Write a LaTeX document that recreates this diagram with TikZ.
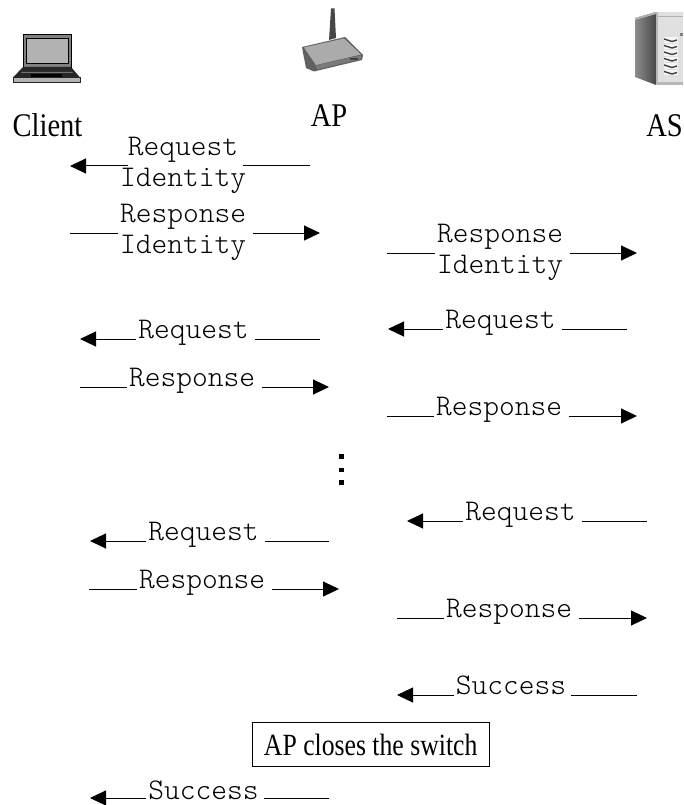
\documentclass[tikz,border=0pt]{standalone}
\usepackage{fontspec}
\usepackage{graphicx}
\setmainfont{Liberation Serif}
\setmonofont{Latin Modern Mono Light}
\usetikzlibrary{arrows.meta}
\definecolor{msgink}{gray}{0.0}
\tikzset{
  msglabel/.style={font=\ttfamily\fontsize{30}{30.4}\selectfont,inner sep=0pt,align=center,text=msgink},
  roletext/.style={font=\fontsize{28.5}{32}\selectfont,inner sep=0pt,anchor=base},
  msgline/.style={line width=1pt,draw=black},
  msgarrow/.style={msgline,-{Triangle[length=16pt,width=15pt]}},
  dotmark/.style={fill=black,draw=none},
}
% name, text, centre x, centre y, line y, left end, right end, left gap, right gap
\newcommand{\msgleft}[9]{%
  \node[msglabel] (#1) at (#3,#4) {#2};
  \coordinate (#1L) at (#6,#5);
  \coordinate (#1R) at (#7,#5);
  \draw[msgarrow] ([xshift=-#8]#1.west |- #1L) -- (#1L);
  \draw[msgline] ([xshift=#9]#1.east |- #1R) -- (#1R);
}
\newcommand{\msgright}[9]{%
  \node[msglabel] (#1) at (#3,#4) {#2};
  \coordinate (#1L) at (#6,#5);
  \coordinate (#1R) at (#7,#5);
  \draw[msgline] (#1L) -- ([xshift=-#8]#1.west |- #1L);
  \draw[msgarrow] ([xshift=#9]#1.east |- #1R) -- (#1R);
}
\begin{document}
\begin{tikzpicture}[x=1pt,y=-1pt]
\useasboundingbox (0,0) rectangle (683,805);
\clip (0,0) rectangle (683,805);
% laptop
\fill[black!50] (23,34) rectangle (71,68);
\draw[black,line width=1pt] (23,68) -- (23,35) -- (71,35) -- (71,68);
\fill[black!30] (26,38.5) rectangle (68,63.5);
\draw[black,line width=1pt] (26,38.5) rectangle (68,63.5);
\fill[black!85] (23,67) -- (71,67) -- (80,77.5) -- (13,77.5) -- cycle;
\fill[black!55] (22,72) -- (72,72) -- (73,73) -- (21,73) -- cycle;
\fill[black!30] (13,77) rectangle (80.5,82);
\draw[black!85,line width=0.8pt] (13,77) rectangle (80.5,82);
\fill[black] (31,74.5) rectangle (62,77.5);
% router
\fill[black!72] (331,8.5) -- (334.5,8.5) -- (336,38) -- (329,40) -- cycle;
\fill[black!62] (302,47) -- (345,37) -- (363,55) -- (362,60) -- (314,71.5) -- (306,68) -- (303,53) -- cycle;
\fill[black!33] (304,47.5) -- (344,38.5) -- (361,54.5) -- (316,65) -- cycle;
\fill[black!52] (316,65.5) -- (361,55.5) -- (361,59) -- (317,69.5) -- cycle;
\fill[black!75] (350,58.5) rectangle (358,60.5);
% server
\shade[left color=black!45,right color=black!72] (635,18) -- (656,12) -- (656,85) -- (635,77) -- cycle;
\fill[black!30] (635,18) -- (656,12) -- (656,14) -- (635,20) -- cycle;
\fill[black!12] (656,12) rectangle (683,85);
\fill[black!28] (656,82) rectangle (683,85);
\fill[black!28] (656,12) rectangle (658,85);
\draw[black!30,line width=0.8pt] (658,16) -- (683,16);
\foreach \yy in {39,45.5,52,58.5,65,71.5}{
  \fill[black!4] (664,\yy-1.5) rectangle (678,\yy+4);
  \draw[black!75,line width=1.4pt] (664,\yy) -- (672,\yy+2.5) -- (677,\yy+1);
}
\fill[black!50] (680,33) rectangle (683,36);
% role labels
\node[roletext] (client) at (47.5,137) {\scalebox{1}[1.16]{Client}};
\node[roletext] (ap) at (329,127) {\scalebox{1}[1.16]{AP}};
\node[roletext] (as) at (664.5,137) {\scalebox{1}[1.16]{AS}};
% messages
\msgleft{m1}{\strut Request\\\strut Identity}{183}{165}{166}{70}{310}{-8pt}{-3pt}
\msgright{m2}{\strut Response\\\strut Identity}{183}{232}{233}{70}{320}{2pt}{7pt}
\msgright{m3}{\strut Response\\\strut Identity}{500}{252}{253}{387}{637}{2pt}{7pt}
\msgleft{m4}{\strut Request}{193.5}{332.5}{339}{80}{320}{2pt}{6pt}
\msgleft{m5}{\strut Request}{500.5}{322.5}{329}{388}{627}{2pt}{6pt}
\msgright{m6}{\strut Response}{192}{380.5}{387}{80}{329}{2pt}{7pt}
\msgright{m7}{\strut Response}{499}{409.5}{416}{387}{637}{2pt}{7pt}
\msgleft{m9}{\strut Request}{520.5}{514.5}{521}{407}{647}{2pt}{6pt}
\msgleft{m10}{\strut Request}{203.5}{534.5}{541}{90}{329}{2pt}{6pt}
\msgright{m11}{\strut Response}{202}{582.5}{589}{89}{339}{2pt}{7pt}
\msgright{m12}{\strut Response}{509}{611.5}{618}{397}{647}{2pt}{7pt}
\msgleft{m13}{\strut Success}{511}{688}{695}{397}{637}{2pt}{5pt}
\msgleft{m15}{\strut Success}{203.5}{793.5}{798}{90}{329}{2pt}{5pt}
% ellipsis
\foreach \yy in {456.7,470,482.5} \fill[dotmark] (339,\yy-2.3) rectangle (343.5,\yy+2.3);
% box
\node[draw=black,line width=0.8pt,minimum width=237.5pt,minimum height=44pt,inner sep=0pt,font=\fontsize{25.7}{30}\selectfont] (sw) at (370.7,744.5) {\scalebox{1}[1.2]{AP closes the switch}};
\end{tikzpicture}
\end{document}
